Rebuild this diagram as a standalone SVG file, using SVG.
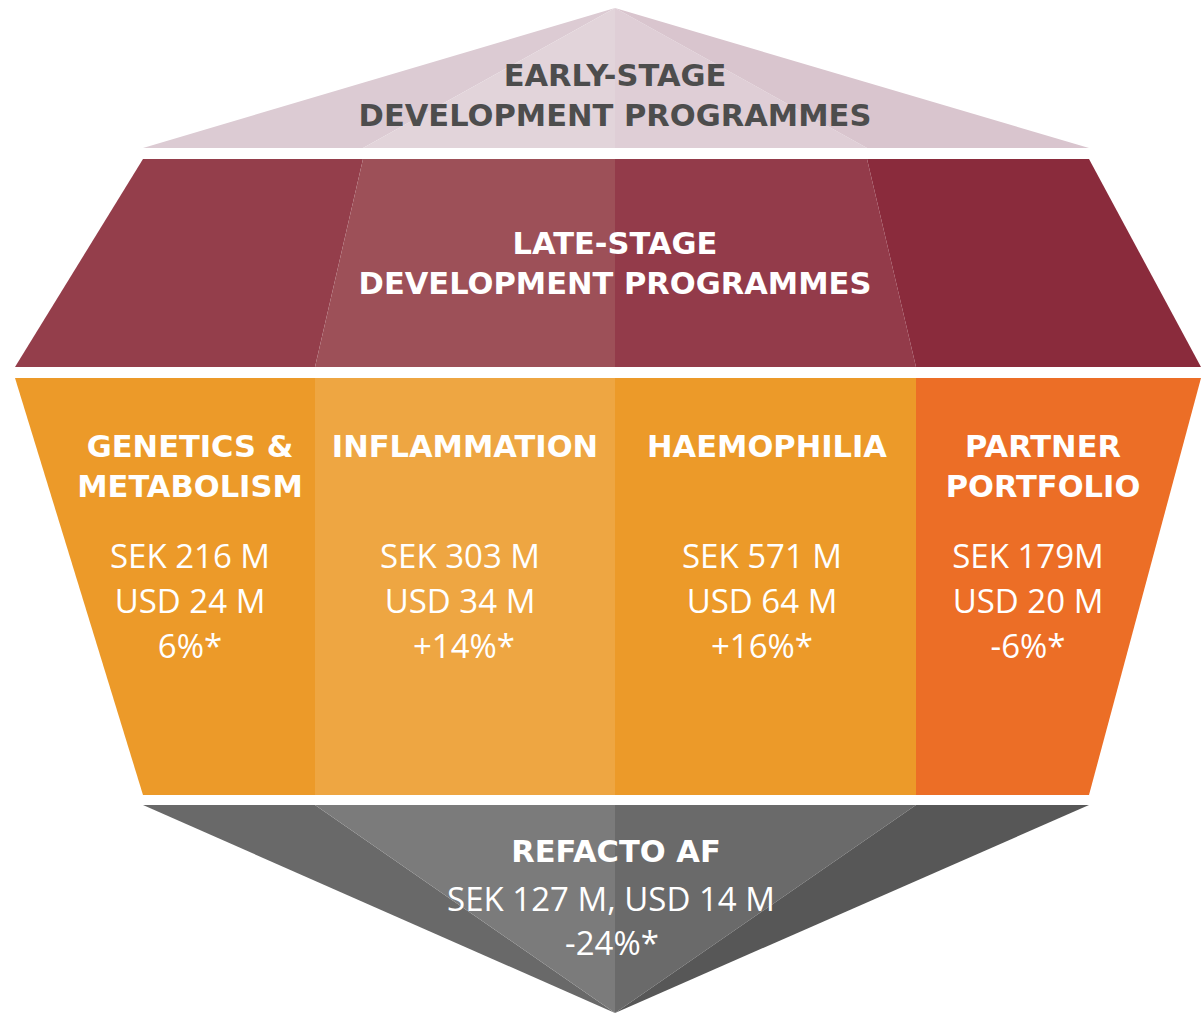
<svg xmlns="http://www.w3.org/2000/svg" width="1201" height="1013" viewBox="0 0 1201 1013">
<style>
.h{font-family:"DejaVu Sans","Liberation Sans",sans-serif;font-weight:bold;font-size:30.5px;text-anchor:middle}
.n{font-family:"Open Sans","Liberation Sans",sans-serif;font-size:33px;fill:#ffffff;text-anchor:middle}
.w{fill:#ffffff}
.d{fill:#4d4d4d}
</style>
<rect width="1201" height="1013" fill="#ffffff"/>
<g id="early-stage">
<polygon points="615,8 143,148 363,148" fill="#dccbd3"/>
<polygon points="615,8 363,148 615,148" fill="#e2d4da"/>
<polygon points="615,8 615,148 867,148" fill="#dfced6"/>
<polygon points="615,8 867,148 1089,148" fill="#d9c5ce"/>
<text class="h d" x="615" y="86">EARLY-STAGE</text>
<text class="h d" x="615" y="126">DEVELOPMENT PROGRAMMES</text>
</g>
<g id="late-stage">
<polygon points="143,159 363,159 315,367 15,367" fill="#943e4b"/>
<polygon points="363,159 615,159 615,367 315,367" fill="#9d5058"/>
<polygon points="615,159 867,159 916,367 615,367" fill="#933b4a"/>
<polygon points="867,159 1089,159 1201,367 916,367" fill="#8a2b3c"/>
<text class="h w" x="615" y="254">LATE-STAGE</text>
<text class="h w" x="615" y="294">DEVELOPMENT PROGRAMMES</text>
</g>
<g id="genetics-metabolism">
<polygon points="15,378 315,378 315,795 143,795" fill="#ec9a29"/>
<text class="h w" x="190" y="457">GENETICS &amp;</text>
<text class="h w" x="190" y="497">METABOLISM</text>
<text class="n" x="190" y="568">SEK 216 M</text>
<text class="n" x="190" y="613">USD 24 M</text>
<text class="n" x="190" y="658">6%*</text>
</g>
<g id="inflammation">
<rect x="315" y="378" width="300" height="417" fill="#eea642"/>
<text class="h w" x="465" y="457">INFLAMMATION</text>
<text class="n" x="460" y="568">SEK 303 M</text>
<text class="n" x="460" y="613">USD 34 M</text>
<text class="n" x="464" y="658">+14%*</text>
</g>
<g id="haemophilia">
<rect x="615" y="378" width="301" height="417" fill="#ec9a29"/>
<text class="h w" x="767" y="457">HAEMOPHILIA</text>
<text class="n" x="762" y="568">SEK 571 M</text>
<text class="n" x="762" y="613">USD 64 M</text>
<text class="n" x="762" y="658">+16%*</text>
</g>
<g id="partner-portfolio">
<polygon points="916,378 1201,378 1089,795 916,795" fill="#ec6e26"/>
<text class="h w" x="1043" y="457">PARTNER</text>
<text class="h w" x="1043" y="497">PORTFOLIO</text>
<text class="n" x="1028" y="568">SEK 179M</text>
<text class="n" x="1028" y="613">USD 20 M</text>
<text class="n" x="1028" y="658">-6%*</text>
</g>
<g id="refacto-af">
<polygon points="143,805 315,805 615,1013" fill="#696969"/>
<polygon points="315,805 615,805 615,1013" fill="#7b7b7b"/>
<polygon points="615,805 916,805 615,1013" fill="#6a6a6a"/>
<polygon points="916,805 1089,805 615,1013" fill="#575757"/>
<text class="h w" x="616" y="862">REFACTO AF</text>
<text class="n" x="611" y="911">SEK 127 M, USD 14 M</text>
<text class="n" x="612" y="955">-24%*</text>
</g>
<g id="connectors"></g>
</svg>
